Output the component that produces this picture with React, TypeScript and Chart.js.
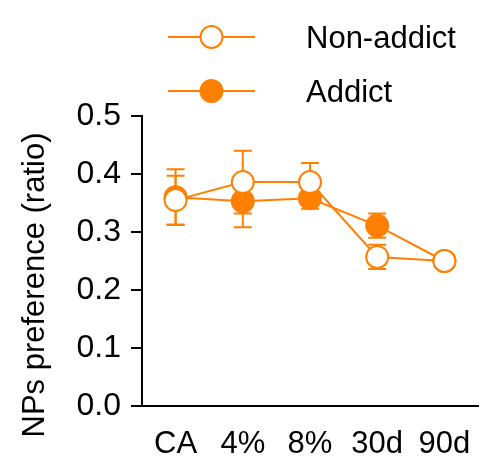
import React, { useEffect, useRef } from "react";
import { Chart, registerables } from "chart.js";

Chart.register(...registerables);

const categories = ["CA", "4%", "8%", "30d", "90d"];
const nonAddict = [0.355, 0.386, 0.386, 0.257, 0.25];
const nonAddictErr = [0.042, 0.054, 0.033, 0.021, 0.0];
const addict = [0.36, 0.353, 0.358, 0.311, 0.25];
const addictErr = [0.048, 0.045, 0.018, 0.021, 0.0];
const yTicks = [0, 0.1, 0.2, 0.3, 0.4, 0.5];
const seriesNames = ["Non-addict", "Addict"];
const yTitle = "NPs preference (ratio)";

const ORANGE = "#ff8000";
const FONT = "'Liberation Sans', Arial, sans-serif";

const errorBarPlugin = {
  id: "errorBars",
  beforeDatasetsDraw(chart: any) {
    const ctx = chart.ctx;
    const x = chart.scales.x;
    const y = chart.scales.y;
    const errs = [nonAddictErr, addictErr];
    const vals = [nonAddict, addict];
    ctx.save();
    ctx.strokeStyle = ORANGE;
    ctx.lineWidth = 2;
    for (let d = 0; d < 2; d++) {
      vals[d].forEach((v, i) => {
        const e = errs[d][i];
        if (!e) return;
        const px = x.getPixelForValue(i);
        const top = y.getPixelForValue(v + e);
        const bot = y.getPixelForValue(v - e);
        ctx.beginPath();
        ctx.moveTo(px, top);
        ctx.lineTo(px, bot);
        ctx.moveTo(px - 9, top);
        ctx.lineTo(px + 9, top);
        ctx.moveTo(px - 9, bot);
        ctx.lineTo(px + 9, bot);
        ctx.stroke();
      });
    }
    ctx.restore();
  },
};

const legendAndTitlePlugin = {
  id: "customLegendTitle",
  afterDraw(chart: any) {
    const ctx = chart.ctx;
    ctx.save();
    // legend
    seriesNames.forEach((name, i) => {
      const cy = 37 + 54 * i;
      ctx.strokeStyle = ORANGE;
      ctx.lineWidth = 2;
      ctx.beginPath();
      ctx.moveTo(168, cy);
      ctx.lineTo(255, cy);
      ctx.stroke();
      ctx.beginPath();
      ctx.arc(211.5, cy, 11, 0, Math.PI * 2);
      ctx.fillStyle = i === 0 ? "#ffffff" : ORANGE;
      ctx.fill();
      ctx.stroke();
      ctx.fillStyle = "#000";
      ctx.font = `31px ${FONT}`;
      ctx.textAlign = "left";
      ctx.textBaseline = "alphabetic";
      ctx.fillText(name, 306, cy + 11);
    });
    // y title
    const area = chart.chartArea;
    const cy = (area.top + area.bottom) / 2 + 24;
    ctx.translate(44, cy);
    ctx.rotate(-Math.PI / 2);
    ctx.textAlign = "center";
    ctx.textBaseline = "alphabetic";
    ctx.fillStyle = "#000";
    ctx.font = `31px ${FONT}`;
    ctx.fillText(yTitle, 0, 0);
    ctx.restore();
  },
};

export default function App() {
  const ref = useRef<HTMLCanvasElement>(null);
  useEffect(() => {
    document.body.style.margin = "0";
    Chart.defaults.font.family = FONT;
    const chart = new Chart(ref.current!, {
      type: "line",
      data: {
        labels: categories,
        datasets: [
          {
            label: seriesNames[0],
            data: nonAddict,
            borderColor: ORANGE,
            backgroundColor: "#ffffff",
            pointBackgroundColor: "#ffffff",
            pointBorderColor: ORANGE,
            pointBorderWidth: 2,
            pointRadius: 11,
            borderWidth: 2,
            tension: 0,
          },
          {
            label: seriesNames[1],
            data: addict,
            borderColor: ORANGE,
            backgroundColor: ORANGE,
            pointBackgroundColor: ORANGE,
            pointBorderColor: ORANGE,
            pointBorderWidth: 2,
            pointRadius: 11,
            borderWidth: 2,
            tension: 0,
          },
        ],
      },
      options: {
        animation: false,
        responsive: false,
        devicePixelRatio: 1,
        layout: { padding: { top: 116, right: 17, left: 0, bottom: 0 } },
        plugins: { legend: { display: false }, tooltip: { enabled: false } },
        scales: {
          x: {
            type: "category",
            offset: true,
            grid: { display: false, drawTicks: false },
            border: { display: true, color: "#000", width: 2 },
            ticks: { color: "#000", font: { size: 31 }, padding: 20, maxRotation: 0, autoSkip: false },
            afterFit(scale: any) {
              scale.height = 68;
            },
          },
          y: {
            min: 0,
            max: 0.5,
            afterBuildTicks(scale: any) {
              scale.ticks = yTicks.map((v) => ({ value: v }));
            },
            grid: { drawOnChartArea: false, drawTicks: true, tickLength: 11, color: "#000", lineWidth: 2 },
            border: { display: true, color: "#000", width: 2 },
            ticks: {
              color: "#000",
              font: { size: 32 },
              padding: 10,
              callback: (v: any) => Number(v).toFixed(1),
            },
            afterFit(scale: any) {
              scale.width = 142;
            },
          },
        },
      },
      plugins: [errorBarPlugin, legendAndTitlePlugin],
    });
    return () => chart.destroy();
  }, []);
  return (
    <div style={{ width: 495, height: 474 }}>
      <canvas ref={ref} width={495} height={474} style={{ width: 495, height: 474 }} />
    </div>
  );
}
